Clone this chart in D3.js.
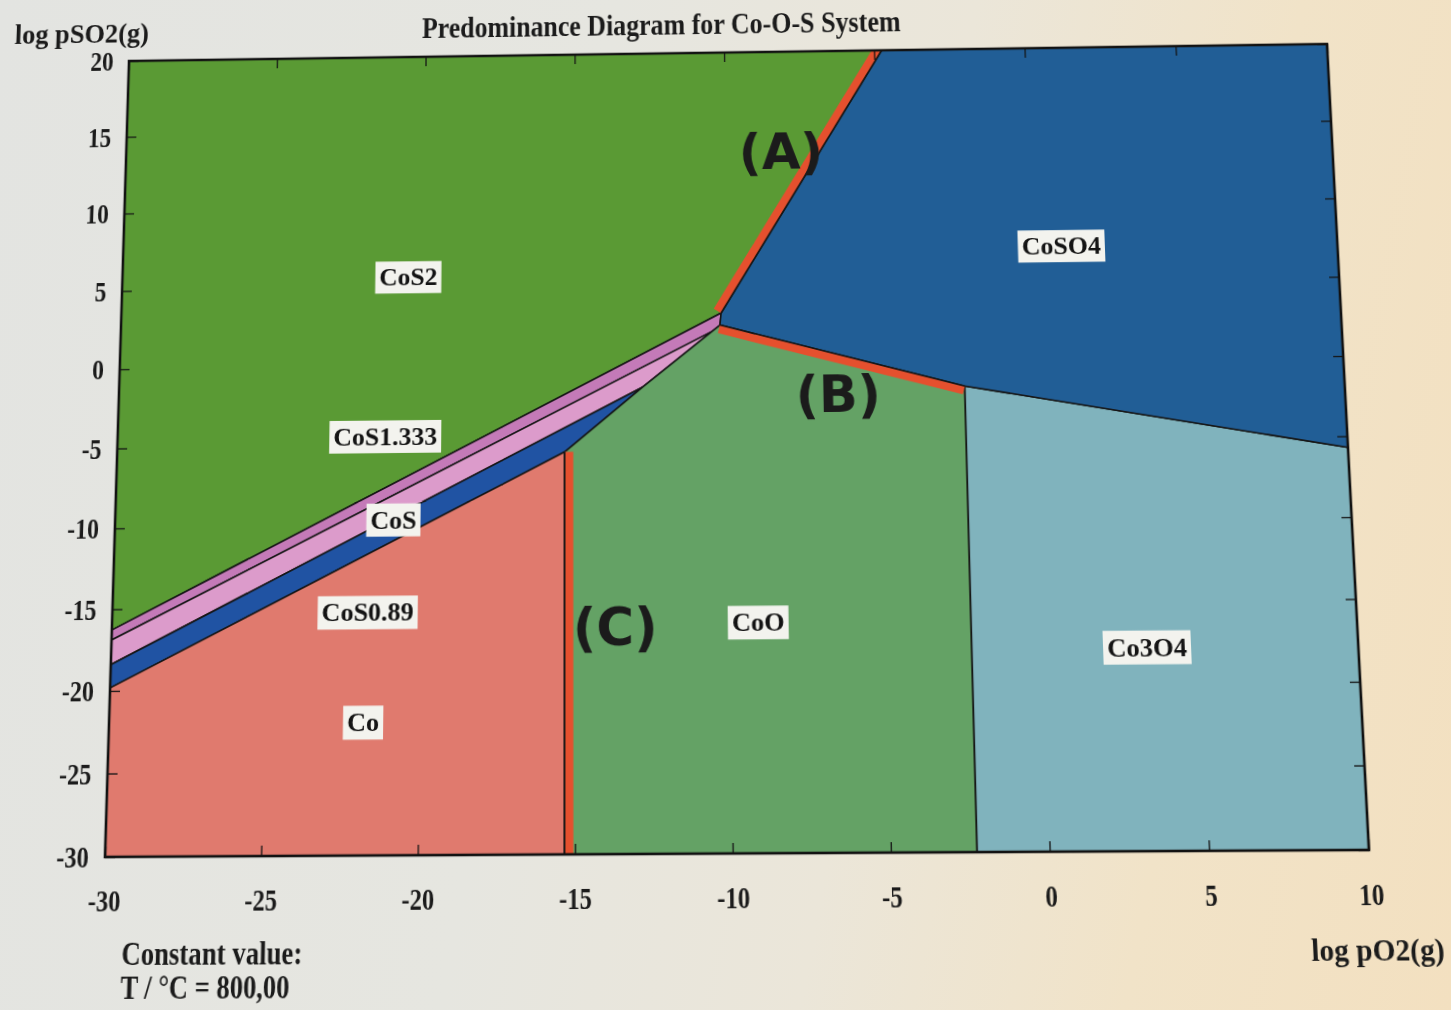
<!DOCTYPE html>
<html>
<head>
<meta charset="utf-8">
<script src="https://cdn.jsdelivr.net/npm/d3@7"></script>
<style>
  html, body { margin: 0; padding: 0; width: 1451px; height: 1010px; overflow: hidden; }
  body { background: linear-gradient(100deg, #e3e4e1 0%, #e6e6e0 38%, #ebe6d9 60%, #f1e3c8 80%, #f3e0c0 100%); }
  #sheet { position: absolute; left: 0; top: 0; width: 1451px; height: 1010px; transform-origin: 0 0; }
  svg { display: block; }
</style>
</head>
<body>
<div id="sheet"></div>
<script>
// ---- axes (log pO2 horizontal, log pSO2 vertical) ----
const xDomain = [-30, 10];
const yDomain = [-30, 20];
const xTicks = [-30, -25, -20, -15, -10, -5, 0, 5, 10];
const yTicks = [20, 15, 10, 5, 0, -5, -10, -15, -20, -25, -30];

// ---- phase boundary vertices [log pO2, log pSO2] ----
const ptTopA   = [-4.75, 20];      // CoS2 / CoSO4 meets the upper frame
const ptP1     = [-10.19, 3.15];   // CoS2 / CoS1.333 / CoSO4
const ptP2     = [-10.23, 2.39];   // CoS1.333 / CoO / CoSO4
const ptQ2     = [-10.5, 1.98];    // CoS1.333 / CoS / CoO
const ptQ3     = [-12.77, -1.47];  // CoS / CoS0.89 / CoO
const ptQ4     = [-15.33, -5.5];   // CoS0.89 / Co / CoO
const ptR      = [-2.28, -1.63];   // CoO / Co3O4 / CoSO4
const ptS      = [10, -5.7];       // CoSO4 / Co3O4 meets the right frame
const ptL1     = [-30, -16.28];    // CoS2 / CoS1.333 at the left frame
const ptL2     = [-30, -16.89];    // CoS1.333 / CoS
const ptL3     = [-30, -18.4];     // CoS / CoS0.89
const ptL4     = [-30, -19.82];    // CoS0.89 / Co
const ptCoBot  = [-15.33, -30];    // Co / CoO at the lower frame
const ptOxBot  = [-2.28, -30];     // CoO / Co3O4 at the lower frame

// ---- stability fields ----
const phaseNames = ["CoS2", "CoS1.333", "CoS", "CoS0.89", "Co", "CoO", "Co3O4", "CoSO4"];
const phasePolys = [
  [[-30, 20], ptTopA, ptP1, ptL1],
  [ptL1, ptP1, ptP2, ptQ2, ptL2],
  [ptL2, ptQ2, ptQ3, ptL3],
  [ptL3, ptQ3, ptQ4, ptL4],
  [ptL4, ptQ4, ptCoBot, [-30, -30]],
  [ptQ4, ptQ3, ptQ2, ptP2, ptR, ptOxBot, ptCoBot],
  [ptR, ptS, [10, -30], ptOxBot],
  [ptTopA, [10, 20], ptS, ptR, ptP2, ptP1]
];
const labelX = [-20.5, -21.2, -20.9, -21.7, -21.8, -9.1, 3.3, 1.0];
const labelY = [5.7, -4.4, -9.6, -15.3, -22.0, -16.1, -17.8, 7.2];

// ---- highlighted boundaries ----
const markNames = ["(A)", "(B)", "(C)"];
const markSegs = [[ptTopA, ptP1], [ptP2, ptR], [ptCoBot, ptQ4]];
const markX = [-8.15, -6.4, -13.7];
const markY = [13.5, -2.0, -16.3];

// ---- styling ----
const phaseColors = ["#5a9a34", "#c47ab8", "#dc9bcb", "#2053a3", "#e07a6e", "#64a265", "#80b3bd", "#215e96"];
const markShift = [[-3.8, -2.3], [-1.1, 4.2], [4.4, 0]];
const serif = "'Liberation Serif', 'Times New Roman', serif";

// flat drawing frame
const W = 1451, H = 1010;
const PL = 120, PR = 1350, PT = 50, PB = 855;

const x = d3.scaleLinear().domain(xDomain).range([PL, PR]);
const y = d3.scaleLinear().domain(yDomain).range([PB, PT]);
const line = d3.line().x(d => x(d[0])).y(d => y(d[1]));

const svg = d3.select("#sheet").append("svg").attr("width", W).attr("height", H);

svg.append("clipPath").attr("id", "plotClip")
  .append("rect").attr("x", PL).attr("y", PT).attr("width", PR - PL).attr("height", PB - PT);

// fields
const fields = phaseNames.map((n, i) => ({ name: n, poly: phasePolys[i], color: phaseColors[i] }));
svg.append("g").selectAll("path").data(fields).join("path")
  .attr("d", d => line(d.poly) + "Z")
  .attr("fill", d => d.color)
  .attr("stroke", "#161616")
  .attr("stroke-width", 1.6)
  .attr("stroke-linejoin", "round");

// highlighted boundaries: red band beside the boundary line
const marks = svg.append("g").attr("clip-path", "url(#plotClip)");
marks.selectAll("path.red").data(markSegs).join("path")
  .attr("class", "red")
  .attr("d", d => line(d))
  .attr("transform", (d, i) => `translate(${markShift[i][0]},${markShift[i][1]})`)
  .attr("fill", "none")
  .attr("stroke", "#e5502e")
  .attr("stroke-width", 8.5);
marks.selectAll("path.edge").data(markSegs).join("path")
  .attr("class", "edge")
  .attr("d", d => line(d))
  .attr("fill", "none")
  .attr("stroke", "#161616")
  .attr("stroke-width", 1.6);

// axes with inward ticks on all four sides
function styleAxis(g) {
  g.select(".domain").remove();
  g.selectAll(".tick line").attr("stroke", "#151515").attr("stroke-width", 1.3);
  g.selectAll(".tick text")
    .attr("fill", "#1b1b1b")
    .style("font-family", serif)
    .style("font-weight", "bold")
    .style("font-size", "30px");
}
function condense(sel, k) {
  sel.each(function () {
    const w = this.getComputedTextLength();
    this.setAttribute("textLength", (w * k).toFixed(1));
    this.setAttribute("lengthAdjust", "spacingAndGlyphs");
  });
}
const fmt = d => String(d);

const gx = svg.append("g").attr("transform", `translate(0,${PB})`)
  .call(d3.axisBottom(x).tickValues(xTicks).tickSize(-10).tickPadding(31).tickFormat(fmt))
  .call(styleAxis);
const gy = svg.append("g").attr("transform", `translate(${PL},0)`)
  .call(d3.axisLeft(y).tickValues(yTicks).tickSize(-10).tickPadding(16).tickFormat(fmt))
  .call(styleAxis);
svg.append("g").attr("transform", `translate(0,${PT})`)
  .call(d3.axisTop(x).tickValues(xTicks).tickSize(-10).tickFormat(""))
  .call(styleAxis);
svg.append("g").attr("transform", `translate(${PR},0)`)
  .call(d3.axisRight(y).tickValues(yTicks).tickSize(-10).tickFormat(""))
  .call(styleAxis);
condense(gx.selectAll(".tick text"), 0.8);
condense(gy.selectAll(".tick text"), 0.8);

// frame
svg.append("rect")
  .attr("x", PL).attr("y", PT).attr("width", PR - PL).attr("height", PB - PT)
  .attr("fill", "none").attr("stroke", "#121212").attr("stroke-width", 2.6);

// field labels on light boxes
const labels = svg.append("g").selectAll("g").data(fields.map((f, i) => ({ name: f.name, lx: labelX[i], ly: labelY[i] })))
  .join("g")
  .attr("transform", d => `translate(${x(d.lx)},${y(d.ly)})`);
labels.append("text")
  .attr("text-anchor", "middle")
  .attr("dy", "0.35em")
  .attr("fill", "#141414")
  .style("font-family", serif)
  .style("font-weight", "bold")
  .style("font-size", "26px")
  .text(d => d.name);
labels.each(function () {
  const g = d3.select(this);
  const b = g.select("text").node().getBBox();
  g.insert("rect", "text")
    .attr("x", b.x - 4).attr("y", b.y - 2)
    .attr("width", b.width + 8).attr("height", b.height + 4)
    .attr("fill", "#f3f3ee");
});

// boundary annotations
svg.append("g").selectAll("text").data(markNames).join("text")
  .attr("x", (d, i) => x(markX[i]))
  .attr("y", (d, i) => y(markY[i]))
  .attr("dy", "0.36em")
  .attr("text-anchor", "middle")
  .attr("fill", "#1b1b1b")
  .style("font-family", "'DejaVu Sans', sans-serif")
  .style("font-weight", "bold")
  .style("font-size", "51px")
  .text(d => d);

// titles and notes
function note(txt, tx, ty, anchor, size, len) {
  svg.append("text")
    .attr("x", tx).attr("y", ty)
    .attr("text-anchor", anchor)
    .attr("fill", "#1b1b1b")
    .attr("textLength", len)
    .attr("lengthAdjust", "spacingAndGlyphs")
    .style("font-family", serif)
    .style("font-weight", "bold")
    .style("font-size", size + "px")
    .text(txt);
}
note("Predominance Diagram for Co-O-S System", 670, 30, "middle", 31, 493);
note("log pSO2(g)", 0, 30, "start", 29, 140);
note("log pO2(g)", 1417, 959, "end", 29, 127);
note("Constant value:", 139, 958, "start", 31, 177);
note("T / \u00B0C = 800,00", 139, 990, "start", 31, 165);

// the printed page is seen at a slant: map the flat frame onto the observed corners
function solveHomography(src, dst) {
  const A = [], B = [];
  for (let i = 0; i < 4; i++) {
    const [sx, sy] = src[i], [dx, dy] = dst[i];
    A.push([sx, sy, 1, 0, 0, 0, -sx * dx, -sy * dx]); B.push(dx);
    A.push([0, 0, 0, sx, sy, 1, -sx * dy, -sy * dy]); B.push(dy);
  }
  const n = 8;
  for (let c = 0; c < n; c++) {
    let p = c;
    for (let r = c + 1; r < n; r++) if (Math.abs(A[r][c]) > Math.abs(A[p][c])) p = r;
    [A[c], A[p]] = [A[p], A[c]]; [B[c], B[p]] = [B[p], B[c]];
    for (let r = 0; r < n; r++) {
      if (r === c) continue;
      const f = A[r][c] / A[c][c];
      for (let k = c; k < n; k++) A[r][k] -= f * A[c][k];
      B[r] -= f * B[c];
    }
  }
  return B.map((b, i) => b / A[i][i]);
}
const h = solveHomography(
  [[PL, PT], [PR, PT], [PR, PB], [PL, PB]],
  [[129, 61], [1327, 44], [1369, 850], [105, 857]]
);
d3.select("#sheet").style("transform",
  `matrix3d(${h[0]},${h[3]},0,${h[6]},${h[1]},${h[4]},0,${h[7]},0,0,1,0,${h[2]},${h[5]},0,1)`);
</script>
</body>
</html>
